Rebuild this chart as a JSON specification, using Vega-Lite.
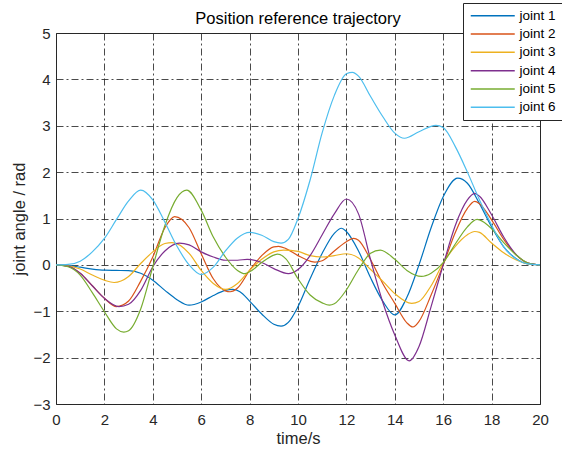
{
  "$schema": "https://vega.github.io/schema/vega-lite/v6.json",
  "width": 484,
  "height": 371,
  "autosize": {"type": "none"},
  "padding": {"left": 56, "top": 33, "right": 22, "bottom": 50},
  "background": "white",
  "config": {
    "font": "Liberation Sans",
    "view": {"stroke": "#262626", "strokeWidth": 1},
    "axis": {
      "domain": false,
      "ticks": false,
      "labelFont": "Liberation Sans",
      "labelFontSize": 15,
      "labelColor": "#262626",
      "titleFont": "Liberation Sans",
      "titleFontSize": 16.5,
      "titleFontWeight": "normal",
      "titleColor": "#262626",
      "grid": true,
      "gridColor": "#2a2a2a",
      "gridOpacity": 0.85,
      "gridWidth": 1,
      "gridDash": [7, 3, 2, 3]
    }
  },
  "title": {
    "text": "Position reference trajectory",
    "font": "Liberation Sans",
    "fontSize": 16.5,
    "fontWeight": "normal",
    "color": "#000000",
    "frame": "group",
    "offset": -25
  },
  "data": {
    "values": [
      {"j":"joint 1","t":0,"v":0},{"j":"joint 1","t":0.5,"v":-0.01},{"j":"joint 1","t":1,"v":-0.05},{"j":"joint 1","t":1.5,"v":-0.09},{"j":"joint 1","t":2,"v":-0.115},{"j":"joint 1","t":2.5,"v":-0.12},{"j":"joint 1","t":3,"v":-0.125},{"j":"joint 1","t":3.5,"v":-0.18},{"j":"joint 1","t":4,"v":-0.33},{"j":"joint 1","t":4.5,"v":-0.55},{"j":"joint 1","t":5,"v":-0.75},{"j":"joint 1","t":5.5,"v":-0.87},{"j":"joint 1","t":6,"v":-0.8},{"j":"joint 1","t":6.5,"v":-0.66},{"j":"joint 1","t":7,"v":-0.55},{"j":"joint 1","t":7.3,"v":-0.53},{"j":"joint 1","t":7.6,"v":-0.58},{"j":"joint 1","t":8,"v":-0.78},{"j":"joint 1","t":8.5,"v":-1.06},{"j":"joint 1","t":9,"v":-1.28},{"j":"joint 1","t":9.3,"v":-1.32},{"j":"joint 1","t":9.6,"v":-1.24},{"j":"joint 1","t":10,"v":-0.9},{"j":"joint 1","t":10.5,"v":-0.3},{"j":"joint 1","t":11,"v":0.25},{"j":"joint 1","t":11.5,"v":0.68},{"j":"joint 1","t":11.8,"v":0.79},{"j":"joint 1","t":12,"v":0.72},{"j":"joint 1","t":12.5,"v":0.3},{"j":"joint 1","t":13,"v":-0.28},{"j":"joint 1","t":13.5,"v":-0.78},{"j":"joint 1","t":14,"v":-1.08},{"j":"joint 1","t":14.5,"v":-0.7},{"j":"joint 1","t":15,"v":0},{"j":"joint 1","t":15.5,"v":0.8},{"j":"joint 1","t":16,"v":1.47},{"j":"joint 1","t":16.6,"v":1.87},{"j":"joint 1","t":17,"v":1.76},{"j":"joint 1","t":17.5,"v":1.32},{"j":"joint 1","t":18,"v":0.82},{"j":"joint 1","t":18.5,"v":0.39},{"j":"joint 1","t":19,"v":0.14},{"j":"joint 1","t":19.5,"v":0.02},{"j":"joint 1","t":20,"v":0},

      {"j":"joint 2","t":0,"v":0},{"j":"joint 2","t":0.5,"v":-0.03},{"j":"joint 2","t":1,"v":-0.18},{"j":"joint 2","t":1.5,"v":-0.45},{"j":"joint 2","t":2,"v":-0.72},{"j":"joint 2","t":2.5,"v":-0.9},{"j":"joint 2","t":3,"v":-0.78},{"j":"joint 2","t":3.5,"v":-0.35},{"j":"joint 2","t":4,"v":0.17},{"j":"joint 2","t":4.5,"v":0.8},{"j":"joint 2","t":4.9,"v":1.04},{"j":"joint 2","t":5.5,"v":0.8},{"j":"joint 2","t":6,"v":0.24},{"j":"joint 2","t":6.5,"v":-0.3},{"j":"joint 2","t":7,"v":-0.56},{"j":"joint 2","t":7.2,"v":-0.58},{"j":"joint 2","t":7.5,"v":-0.5},{"j":"joint 2","t":8,"v":-0.12},{"j":"joint 2","t":8.5,"v":0.2},{"j":"joint 2","t":9,"v":0.39},{"j":"joint 2","t":9.2,"v":0.4},{"j":"joint 2","t":9.5,"v":0.35},{"j":"joint 2","t":10,"v":0.2},{"j":"joint 2","t":10.5,"v":0.08},{"j":"joint 2","t":10.7,"v":0.06},{"j":"joint 2","t":11,"v":0.09},{"j":"joint 2","t":11.5,"v":0.3},{"j":"joint 2","t":12,"v":0.5},{"j":"joint 2","t":12.3,"v":0.57},{"j":"joint 2","t":12.5,"v":0.53},{"j":"joint 2","t":13,"v":0.11},{"j":"joint 2","t":13.5,"v":-0.4},{"j":"joint 2","t":14,"v":-0.83},{"j":"joint 2","t":14.5,"v":-1.25},{"j":"joint 2","t":14.75,"v":-1.34},{"j":"joint 2","t":15,"v":-1.22},{"j":"joint 2","t":15.5,"v":-0.65},{"j":"joint 2","t":16,"v":0},{"j":"joint 2","t":16.5,"v":0.7},{"j":"joint 2","t":17,"v":1.22},{"j":"joint 2","t":17.3,"v":1.37},{"j":"joint 2","t":17.5,"v":1.32},{"j":"joint 2","t":18,"v":0.97},{"j":"joint 2","t":18.5,"v":0.55},{"j":"joint 2","t":19,"v":0.22},{"j":"joint 2","t":19.5,"v":0.04},{"j":"joint 2","t":20,"v":0},

      {"j":"joint 3","t":0,"v":0},{"j":"joint 3","t":0.5,"v":-0.02},{"j":"joint 3","t":1,"v":-0.09},{"j":"joint 3","t":1.5,"v":-0.22},{"j":"joint 3","t":2,"v":-0.33},{"j":"joint 3","t":2.4,"v":-0.38},{"j":"joint 3","t":3,"v":-0.25},{"j":"joint 3","t":3.5,"v":0.03},{"j":"joint 3","t":4,"v":0.28},{"j":"joint 3","t":4.5,"v":0.46},{"j":"joint 3","t":4.8,"v":0.48},{"j":"joint 3","t":5.5,"v":0.25},{"j":"joint 3","t":6,"v":-0.12},{"j":"joint 3","t":6.5,"v":-0.4},{"j":"joint 3","t":7,"v":-0.53},{"j":"joint 3","t":7.5,"v":-0.4},{"j":"joint 3","t":8,"v":-0.12},{"j":"joint 3","t":8.5,"v":0.12},{"j":"joint 3","t":9,"v":0.28},{"j":"joint 3","t":9.4,"v":0.32},{"j":"joint 3","t":10,"v":0.29},{"j":"joint 3","t":10.5,"v":0.2},{"j":"joint 3","t":11,"v":0.17},{"j":"joint 3","t":11.5,"v":0.2},{"j":"joint 3","t":12,"v":0.24},{"j":"joint 3","t":12.5,"v":0.15},{"j":"joint 3","t":13,"v":-0.1},{"j":"joint 3","t":13.5,"v":-0.35},{"j":"joint 3","t":14,"v":-0.62},{"j":"joint 3","t":14.7,"v":-0.83},{"j":"joint 3","t":15,"v":-0.79},{"j":"joint 3","t":15.5,"v":-0.45},{"j":"joint 3","t":16,"v":0.04},{"j":"joint 3","t":16.5,"v":0.4},{"j":"joint 3","t":17,"v":0.65},{"j":"joint 3","t":17.3,"v":0.72},{"j":"joint 3","t":17.5,"v":0.7},{"j":"joint 3","t":18,"v":0.47},{"j":"joint 3","t":18.5,"v":0.26},{"j":"joint 3","t":19,"v":0.11},{"j":"joint 3","t":19.5,"v":0.02},{"j":"joint 3","t":20,"v":0},

      {"j":"joint 4","t":0,"v":0},{"j":"joint 4","t":0.5,"v":-0.03},{"j":"joint 4","t":1,"v":-0.18},{"j":"joint 4","t":1.5,"v":-0.45},{"j":"joint 4","t":2,"v":-0.72},{"j":"joint 4","t":2.6,"v":-0.9},{"j":"joint 4","t":3,"v":-0.85},{"j":"joint 4","t":3.5,"v":-0.55},{"j":"joint 4","t":4,"v":-0.04},{"j":"joint 4","t":4.5,"v":0.3},{"j":"joint 4","t":5.1,"v":0.47},{"j":"joint 4","t":5.5,"v":0.43},{"j":"joint 4","t":6,"v":0.28},{"j":"joint 4","t":6.5,"v":0.17},{"j":"joint 4","t":7,"v":0.1},{"j":"joint 4","t":7.5,"v":0.1},{"j":"joint 4","t":7.9,"v":0.12},{"j":"joint 4","t":8.5,"v":0.05},{"j":"joint 4","t":9,"v":-0.08},{"j":"joint 4","t":9.6,"v":-0.19},{"j":"joint 4","t":10,"v":-0.1},{"j":"joint 4","t":10.5,"v":0.2},{"j":"joint 4","t":11,"v":0.65},{"j":"joint 4","t":11.5,"v":1.1},{"j":"joint 4","t":12,"v":1.42},{"j":"joint 4","t":12.5,"v":1.1},{"j":"joint 4","t":13,"v":0.11},{"j":"joint 4","t":13.5,"v":-0.8},{"j":"joint 4","t":14,"v":-1.51},{"j":"joint 4","t":14.6,"v":-2.07},{"j":"joint 4","t":15,"v":-1.76},{"j":"joint 4","t":15.5,"v":-0.9},{"j":"joint 4","t":16,"v":0},{"j":"joint 4","t":16.5,"v":0.85},{"j":"joint 4","t":17,"v":1.4},{"j":"joint 4","t":17.3,"v":1.54},{"j":"joint 4","t":17.5,"v":1.48},{"j":"joint 4","t":18,"v":1.08},{"j":"joint 4","t":18.5,"v":0.6},{"j":"joint 4","t":19,"v":0.23},{"j":"joint 4","t":19.5,"v":0.04},{"j":"joint 4","t":20,"v":0},

      {"j":"joint 5","t":0,"v":0},{"j":"joint 5","t":0.5,"v":-0.04},{"j":"joint 5","t":1,"v":-0.22},{"j":"joint 5","t":1.5,"v":-0.6},{"j":"joint 5","t":2,"v":-1.01},{"j":"joint 5","t":2.5,"v":-1.38},{"j":"joint 5","t":2.8,"v":-1.45},{"j":"joint 5","t":3,"v":-1.42},{"j":"joint 5","t":3.5,"v":-0.95},{"j":"joint 5","t":4,"v":-0.04},{"j":"joint 5","t":4.5,"v":0.85},{"j":"joint 5","t":5,"v":1.45},{"j":"joint 5","t":5.4,"v":1.61},{"j":"joint 5","t":6,"v":1.18},{"j":"joint 5","t":6.5,"v":0.6},{"j":"joint 5","t":7,"v":0.17},{"j":"joint 5","t":7.5,"v":-0.12},{"j":"joint 5","t":7.8,"v":-0.19},{"j":"joint 5","t":8,"v":-0.15},{"j":"joint 5","t":8.5,"v":0.05},{"j":"joint 5","t":9,"v":0.21},{"j":"joint 5","t":9.15,"v":0.23},{"j":"joint 5","t":9.5,"v":0.13},{"j":"joint 5","t":10,"v":-0.3},{"j":"joint 5","t":10.5,"v":-0.65},{"j":"joint 5","t":11,"v":-0.82},{"j":"joint 5","t":11.3,"v":-0.87},{"j":"joint 5","t":11.5,"v":-0.84},{"j":"joint 5","t":12,"v":-0.54},{"j":"joint 5","t":12.5,"v":-0.1},{"j":"joint 5","t":13,"v":0.25},{"j":"joint 5","t":13.4,"v":0.32},{"j":"joint 5","t":14,"v":0.12},{"j":"joint 5","t":14.5,"v":-0.12},{"j":"joint 5","t":15.1,"v":-0.25},{"j":"joint 5","t":15.5,"v":-0.18},{"j":"joint 5","t":16,"v":0.05},{"j":"joint 5","t":16.5,"v":0.45},{"j":"joint 5","t":17,"v":0.82},{"j":"joint 5","t":17.4,"v":0.98},{"j":"joint 5","t":17.5,"v":0.97},{"j":"joint 5","t":18,"v":0.78},{"j":"joint 5","t":18.5,"v":0.48},{"j":"joint 5","t":19,"v":0.22},{"j":"joint 5","t":19.5,"v":0.04},{"j":"joint 5","t":20,"v":0},

      {"j":"joint 6","t":0,"v":0},{"j":"joint 6","t":0.5,"v":0.01},{"j":"joint 6","t":1,"v":0.08},{"j":"joint 6","t":1.5,"v":0.28},{"j":"joint 6","t":2,"v":0.57},{"j":"joint 6","t":2.5,"v":0.98},{"j":"joint 6","t":3,"v":1.38},{"j":"joint 6","t":3.5,"v":1.61},{"j":"joint 6","t":4,"v":1.4},{"j":"joint 6","t":4.5,"v":0.92},{"j":"joint 6","t":5,"v":0.4},{"j":"joint 6","t":5.5,"v":0.0},{"j":"joint 6","t":6,"v":-0.21},{"j":"joint 6","t":6.5,"v":-0.05},{"j":"joint 6","t":7,"v":0.3},{"j":"joint 6","t":7.5,"v":0.58},{"j":"joint 6","t":8,"v":0.7},{"j":"joint 6","t":8.5,"v":0.64},{"j":"joint 6","t":9,"v":0.5},{"j":"joint 6","t":9.3,"v":0.47},{"j":"joint 6","t":9.6,"v":0.55},{"j":"joint 6","t":10,"v":1.0},{"j":"joint 6","t":10.5,"v":1.83},{"j":"joint 6","t":11,"v":2.85},{"j":"joint 6","t":11.5,"v":3.65},{"j":"joint 6","t":12,"v":4.12},{"j":"joint 6","t":12.25,"v":4.15},{"j":"joint 6","t":12.5,"v":4.07},{"j":"joint 6","t":13,"v":3.63},{"j":"joint 6","t":13.5,"v":3.2},{"j":"joint 6","t":14,"v":2.84},{"j":"joint 6","t":14.4,"v":2.73},{"j":"joint 6","t":15,"v":2.87},{"j":"joint 6","t":15.7,"v":3.01},{"j":"joint 6","t":16,"v":2.96},{"j":"joint 6","t":16.5,"v":2.55},{"j":"joint 6","t":17,"v":2.0},{"j":"joint 6","t":17.5,"v":1.4},{"j":"joint 6","t":18,"v":0.86},{"j":"joint 6","t":18.5,"v":0.39},{"j":"joint 6","t":19,"v":0.13},{"j":"joint 6","t":19.5,"v":0.02},{"j":"joint 6","t":20,"v":0}
    ]
  },
  "mark": {"type": "line", "interpolate": "monotone", "strokeWidth": 1.2, "clip": true},
  "encoding": {
    "x": {
      "field": "t",
      "type": "quantitative",
      "scale": {"domain": [0, 20], "nice": false, "zero": false},
      "axis": {"values": [0, 2, 4, 6, 8, 10, 12, 14, 16, 18, 20], "title": "time/s", "labelPadding": 8, "titlePadding": 3, "labelFlush": false}
    },
    "y": {
      "field": "v",
      "type": "quantitative",
      "scale": {"domain": [-3, 5], "nice": false, "zero": false},
      "axis": {"values": [-3, -2, -1, 0, 1, 2, 3, 4, 5], "title": "joint angle / rad", "labelPadding": 6, "titlePadding": 5, "labelFlush": false}
    },
    "color": {
      "field": "j",
      "type": "nominal",
      "scale": {
        "domain": ["joint 1", "joint 2", "joint 3", "joint 4", "joint 5", "joint 6"],
        "range": ["#0072BD", "#D95319", "#EDB120", "#7E2F8E", "#77AC30", "#4DBEEE"]
      },
      "legend": {
        "title": null,
        "orient": "none",
        "legendX": 407,
        "legendY": -30,
        "fillColor": "white",
        "strokeColor": "#262626",
        "padding": 6,
        "symbolType": "M-4,0H4",
        "symbolSize": 121,
        "symbolStrokeWidth": 1.5,
        "symbolOffset": 17,
        "labelOffset": 20,
        "labelFont": "Liberation Sans",
        "labelFontSize": 13.5,
        "labelColor": "#000000",
        "rowPadding": 3.3
      }
    }
  }
}
